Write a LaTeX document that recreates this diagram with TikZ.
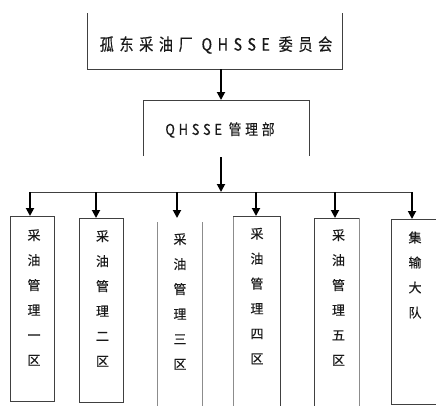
\documentclass[tikz,border=0pt]{standalone}
\usepackage{fontspec}
\newfontfamily\cjk[FakeBold=0.4]{Noto Sans CJK SC}
\newfontfamily\cjkls[LetterSpace=40,FakeBold=0.4]{Noto Sans CJK SC}
\newfontfamily\cjkmid[LetterSpace=30,FakeBold=0.4]{Noto Sans CJK SC}
\usetikzlibrary{arrows.meta}
\begin{document}
\begin{tikzpicture}[x=1pt,y=-1pt,
  holder/.style={draw=none, inner sep=0pt, outer sep=0pt},
  frame/.style={draw=black!75, line width=0.8pt},
  grayline/.style={draw=black!45, line width=0.8pt},
  busline/.style={draw=black!75, line width=0.8pt},
  arr/.style={-{Triangle[length=8pt,width=8pt]}, line width=1.8pt, black},
  vtext/.style={align=center, font=\cjk\fontsize{13pt}{25pt}\selectfont, text=black!90, inner sep=0pt},
  htext/.style={inner sep=0pt, text=black!90}
]
\useasboundingbox (0,0) rectangle (436,405);
% top box (no top edge)
\node[holder, minimum width=255pt, minimum height=56pt] (top) at (214.5,41) {};
\draw[frame] (top.north west) -- (top.south west) -- (top.south east) -- (top.north east);
\node[htext] (toptext) at (216,45) {\scalebox{0.83}[1]{\cjkls\fontsize{17pt}{20pt}\selectfont 孤东采油厂 QHSSE 委员会}};
% middle box (no bottom edge)
\node[holder, minimum width=166pt, minimum height=56pt] (mid) at (226,128) {};
\draw[frame] (mid.south west) -- (mid.north west) -- (mid.north east) -- (mid.south east);
\node[htext] (midtext) at (220,130) {\scalebox{0.85}[1]{\cjkmid\fontsize{15pt}{18pt}\selectfont QHSSE 管理部}};
% arrows top -> mid -> bus
\coordinate (j1) at (221,69);
\draw[arr] (j1) -- (j1 |- mid.north);
\coordinate (j2) at (221,157);
\coordinate (bm) at (221,192);
\draw[arr] (j2) -- (bm);
% bus
\coordinate (c1) at (30,192);
\coordinate (c2) at (96,192);
\coordinate (c3) at (177,192);
\coordinate (c4) at (256,192);
\coordinate (c5) at (335,192);
\coordinate (c6) at (412,192);
\draw[busline] (c1) -- (c6);
% boxes
\node[holder, frame, minimum width=44pt, minimum height=185pt] (b1) at (32,308.5) {};
\node[holder, frame, minimum width=44pt, minimum height=184pt] (b2) at (101,310) {};
\node[holder, minimum width=45pt, minimum height=188pt] (b3) at (179.5,316) {};
\draw[grayline] (b3.north west) -- (b3.south west);
\draw[grayline] (b3.north east) -- (b3.south east);
\node[holder, minimum width=47pt, minimum height=194pt] (b4) at (256.5,313) {};
\draw[grayline] (b4.south west) -- (b4.north west);
\draw[frame] (b4.north west) -- (b4.north east) -- (b4.south east);
\node[holder, minimum width=45pt, minimum height=192pt] (b5) at (336.5,314) {};
\draw[frame] (b5.south west) -- (b5.north west) -- (b5.north east);
\draw[grayline] (b5.north east) -- (b5.south east);
\node[holder, frame, minimum width=47pt, minimum height=185pt] (b6) at (414.5,311.5) {};
% branch arrows
\draw[arr] (c1) -- (c1 |- b1.north);
\draw[arr] (c2) -- (c2 |- b2.north);
\draw[arr] (c3) -- ([yshift=4pt]c3 |- b3.north);
\draw[arr] (c4) -- (c4 |- b4.north);
\draw[arr] (c5) -- (c5 |- b5.north);
\draw[arr] (c6) -- (c6 |- b6.north);
% vertical texts
\node[vtext] (t1) at (34,297.5) {采\\油\\管\\理\\一\\区};
\node[vtext] (t2) at (102.5,298.5) {采\\油\\管\\理\\二\\区};
\node[vtext] (t3) at (180,301.5) {采\\油\\管\\理\\三\\区};
\node[vtext] (t4) at (257,296) {采\\油\\管\\理\\四\\区};
\node[vtext] (t5) at (338.5,297.5) {采\\油\\管\\理\\五\\区};
\node[vtext] (t6) at (415,275) {集\\输\\大\\队};
\end{tikzpicture}
\end{document}
